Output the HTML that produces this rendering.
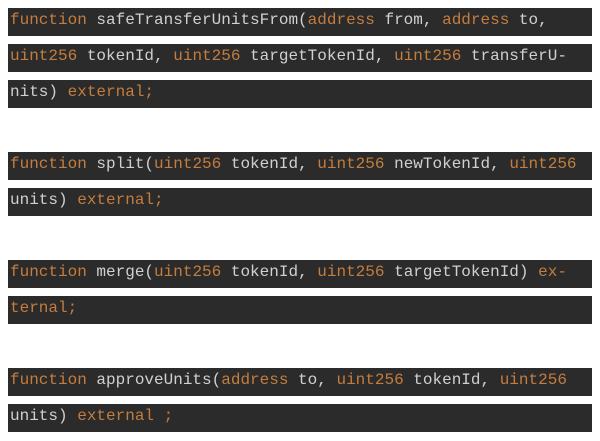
<!DOCTYPE html>
<html><head><style>
body{margin:0;width:600px;height:441px;background:#fff;position:relative;overflow:hidden}
.b{position:absolute;left:8px;width:584px;height:28px;background:#2b2b2b;font-family:"Liberation Mono",monospace;font-size:16px;line-height:24px;color:#d0d0d0;white-space:pre;box-sizing:border-box;padding-left:2px}
.k{color:#c47d3e}
</style></head><body>
<div class="b" style="top:8px"><span class="k">function</span> safeTransferUnitsFrom(<span class="k">address</span> from, <span class="k">address</span> to,</div>
<div class="b" style="top:44px"><span class="k">uint256</span> tokenId, <span class="k">uint256</span> targetTokenId, <span class="k">uint256</span> transferU-</div>
<div class="b" style="top:80px">nits) <span class="k">external;</span></div>
<div class="b" style="top:152px"><span class="k">function</span> split(<span class="k">uint256</span> tokenId, <span class="k">uint256</span> newTokenId, <span class="k">uint256</span></div>
<div class="b" style="top:188px">units) <span class="k">external;</span></div>
<div class="b" style="top:260px"><span class="k">function</span> merge(<span class="k">uint256</span> tokenId, <span class="k">uint256</span> targetTokenId) <span class="k">ex-</span></div>
<div class="b" style="top:296px"><span class="k">ternal;</span></div>
<div class="b" style="top:368px"><span class="k">function</span> approveUnits(<span class="k">address</span> to, <span class="k">uint256</span> tokenId, <span class="k">uint256</span></div>
<div class="b" style="top:404px">units) <span class="k">external ;</span></div>
</body></html>
